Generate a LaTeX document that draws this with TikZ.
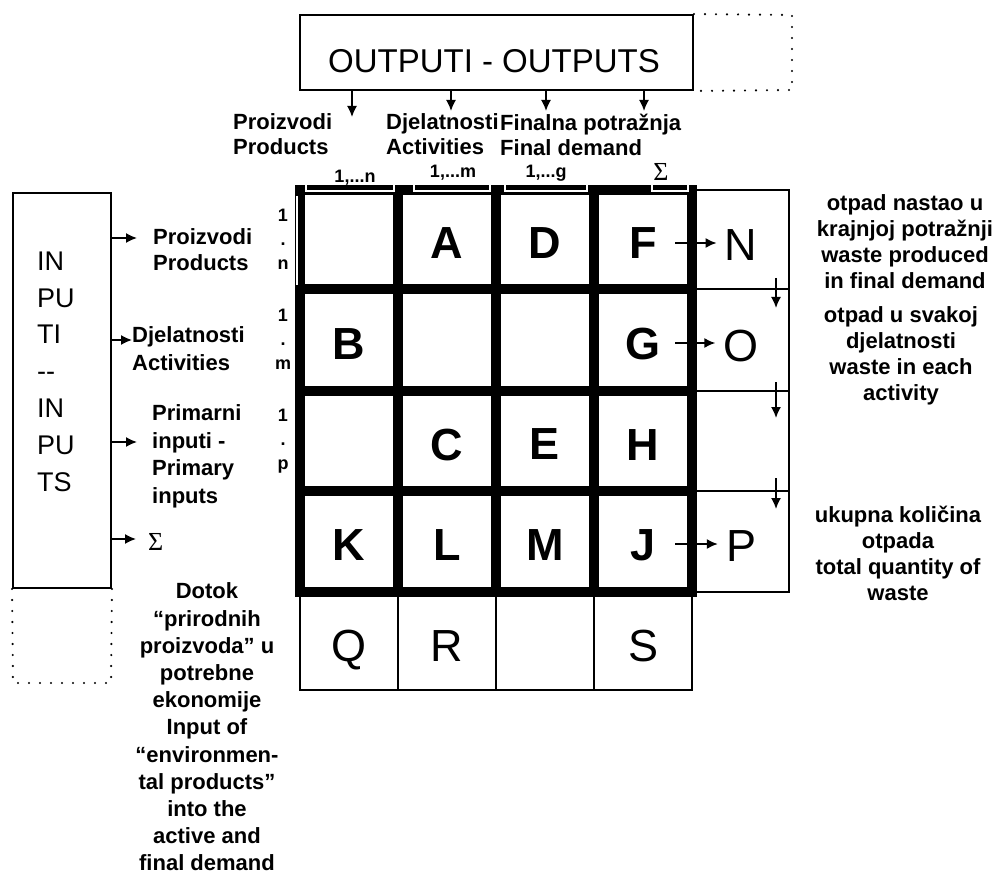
\documentclass[tikz,border=0pt]{standalone}
\usepackage{fontspec}
\setmainfont{Liberation Sans}
\newfontfamily\seriffont{Liberation Serif}
\usetikzlibrary{arrows.meta}
\begin{document}
\begin{tikzpicture}[x=1pt,y=-1pt,
  lbl/.style={font=\bfseries\fontsize{22}{27}\selectfont, inner sep=0pt},
  hdr/.style={font=\bfseries\fontsize{22}{25}\selectfont, inner sep=0pt, anchor=west, align=left},
  rt/.style={font=\bfseries\fontsize{22}{26}\selectfont, inner sep=0pt, align=center},
  sub/.style={font=\bfseries\fontsize{18}{18}\selectfont, inner sep=0pt},
  rowlbl/.style={font=\bfseries\fontsize{18}{24}\selectfont, inner sep=0pt, align=center},
  sig/.style={font=\seriffont\fontsize{26}{26}\selectfont, inner sep=0pt},
  bl/.style={font=\bfseries\fontsize{45}{45}\selectfont, inner sep=0pt, text height=32pt, text depth=0pt},
  rl/.style={font=\fontsize{45}{45}\selectfont, inner sep=0pt, text height=32pt, text depth=0pt},
  arr/.style={-{Latex[length=11pt,width=10pt]}, line width=1.6pt},
  thickgrid/.style={line width=10pt},
  thinline/.style={line width=2pt},
  dotline/.style={line width=2.4pt, dash pattern=on 0pt off 11pt, line cap=round},
  brk/.style={white, line width=1.2pt}
]
\useasboundingbox (0,0) rectangle (993,877);

% ---------- top OUTPUT box ----------
\node[draw, thinline, minimum width=393pt, minimum height=75pt, inner sep=0pt] (OUT) at (496.5,52.5) {};
\node[font=\fontsize{33}{33}\selectfont, inner sep=0pt] (OUTT) at (494,61) {OUTPUTI - OUTPUTS};
\draw[dotline] (OUT.north east) -- (792,15) -- (792,90) -- (OUT.south east);

\coordinate (t1) at (352,117);
\coordinate (t2) at (451,111);
\coordinate (t3) at (546,111);
\coordinate (t4) at (644,111);
\foreach \c in {t1,t2,t3,t4} \draw[arr] (OUT.south -| \c) -- (\c);

% column headers
\node[hdr] (hP) at (233,134.5) {Proizvodi\\Products};
\node[hdr] (hA) at (386,134.5) {Djelatnosti\\Activities};
\node[hdr] (hF) at (500,134.5) {Finalna potražnja\\Final demand};

\node[sub] (s1) at (355,178) {1,...n};
\node[sub] (s2) at (453,173) {1,...m};
\node[sub] (s3) at (546,173) {1,...g};
\node[sig] (s4) at (661,172) {Σ};

% ---------- thin parts ----------
\draw[thinline] (692,190) rectangle (789,592);
\foreach \y in {289,391,491} \draw[thinline] (692,\y) -- (789,\y);
\draw[thinline] (300,592) rectangle (692,690);
\foreach \x in {398,496,594} \draw[thinline] (\x,592) -- (\x,690);

% ---------- thick grid ----------
\draw[thickgrid] (300,190) rectangle (692,592);
\foreach \x in {398,496,594} \draw[thickgrid] (\x,190) -- (\x,592);
\foreach \y in {289,391,491} \draw[thickgrid] (300,\y) -- (692,\y);

% brackets on the top border
\draw[brk] (306,185) -- (306,191) -- (394,191) -- (394,185);
\draw[brk] (414,185) -- (414,191) -- (490,191) -- (490,185);
\draw[brk] (505,185) -- (505,191) -- (587,191) -- (587,185);
\draw[brk] (652,185) -- (652,191) -- (688,191) -- (688,185);
\draw[brk] (297,196) -- (297,285);

% ---------- cell letters ----------
\node[bl] (A) at (447,243) {A};
\node[bl] (D) at (545,243) {D};
\node[bl] (F) at (643,243) {F};
\node[rl] (N) at (741,245) {N};
\node[bl] (B) at (349,343) {B};
\node[bl] (G) at (643,343) {G};
\node[rl] (O) at (741,345) {O};
\node[bl] (C) at (447,444) {C};
\node[bl] (E) at (545,443) {E};
\node[bl] (H) at (643,444) {H};
\node[bl] (K) at (349,544) {K};
\node[bl] (L) at (447,544) {L};
\node[bl] (M) at (545,544) {M};
\node[bl] (J) at (643,544) {J};
\node[rl] (P) at (741,545) {P};
\node[rl] (Q) at (349,645) {Q};
\node[rl] (R) at (447,645) {R};
\node[rl] (S) at (643,645) {S};

\coordinate (ax) at (675,0);
\draw[arr, shorten >=8pt] (F.east -| ax) -- (F.east -| N.west);
\draw[arr, shorten >=8pt] (G.east -| ax) -- (G.east -| O.west);
\draw[arr, shorten >=8pt] (J.east -| ax) -- (J.east -| P.west);

\coordinate (d1s) at (776,278); \coordinate (d1e) at (776,308);
\coordinate (d2s) at (776,382); \coordinate (d2e) at (776,418);
\coordinate (d3s) at (776,478); \coordinate (d3e) at (776,509);
\draw[arr] (d1s) -- (d1e);
\draw[arr] (d2s) -- (d2e);
\draw[arr] (d3s) -- (d3e);

% row labels
\node[rowlbl] (r1) at (283,239) {1\\.\\n};
\node[rowlbl] (r2) at (283,339) {1\\.\\m};
\node[rowlbl] (r3) at (283,441) {1\\.\\p};

% ---------- left INPUT box ----------
\node[draw, thinline, minimum width=98pt, minimum height=395pt, inner sep=0pt] (INP) at (62,390.5) {};
\node[font=\fontsize{27}{36.8}\selectfont, inner sep=0pt, align=left, anchor=west] (INPT) at (37,371.5) {IN\\PU\\TI\\-{}-\\IN\\PU\\TS};
\draw[dotline] (INP.south west) -- (13,683) -- (111,683) -- (INP.south east);

\node[hdr, font=\bfseries\fontsize{22}{26}\selectfont] (L1) at (153,250) {Proizvodi\\Products};
\node[hdr, font=\bfseries\fontsize{22}{28}\selectfont] (L2) at (132,349) {Djelatnosti\\Activities};
\node[hdr, font=\bfseries\fontsize{22}{27.5}\selectfont] (L3) at (152,456.5) {Primarni\\inputi -\\Primary\\inputs};
\node[sig, anchor=west] (L4) at (148,542) {Σ};

\coordinate (a1) at (137,238);
\coordinate (a2) at (132,340);
\coordinate (a3) at (137,442);
\coordinate (a4) at (136,539);
\foreach \c in {a1,a2,a3,a4} \draw[arr] (INP.east |- \c) -- (\c);

% ---------- right texts ----------
\node[rt] (T1) at (905,241.5) {otpad nastao u\\krajnjoj potražnji\\waste produced\\in final demand};
\node[rt] (T2) at (901,356) {otpad u svakoj\\djelatnosti\\waste in each\\activity};
\node[rt] (T3) at (898,553) {ukupna količina\\otpada\\total quantity of\\waste};

% ---------- bottom-left text ----------
\node[lbl, align=center, font=\bfseries\fontsize{22}{27.2}\selectfont] (Dt) at (207,727) {Dotok\\“prirodnih\\proizvoda” u\\potrebne\\ekonomije\\Input of\\“environmen-\\tal products”\\into the\\active and\\final demand};
\end{tikzpicture}
\end{document}
